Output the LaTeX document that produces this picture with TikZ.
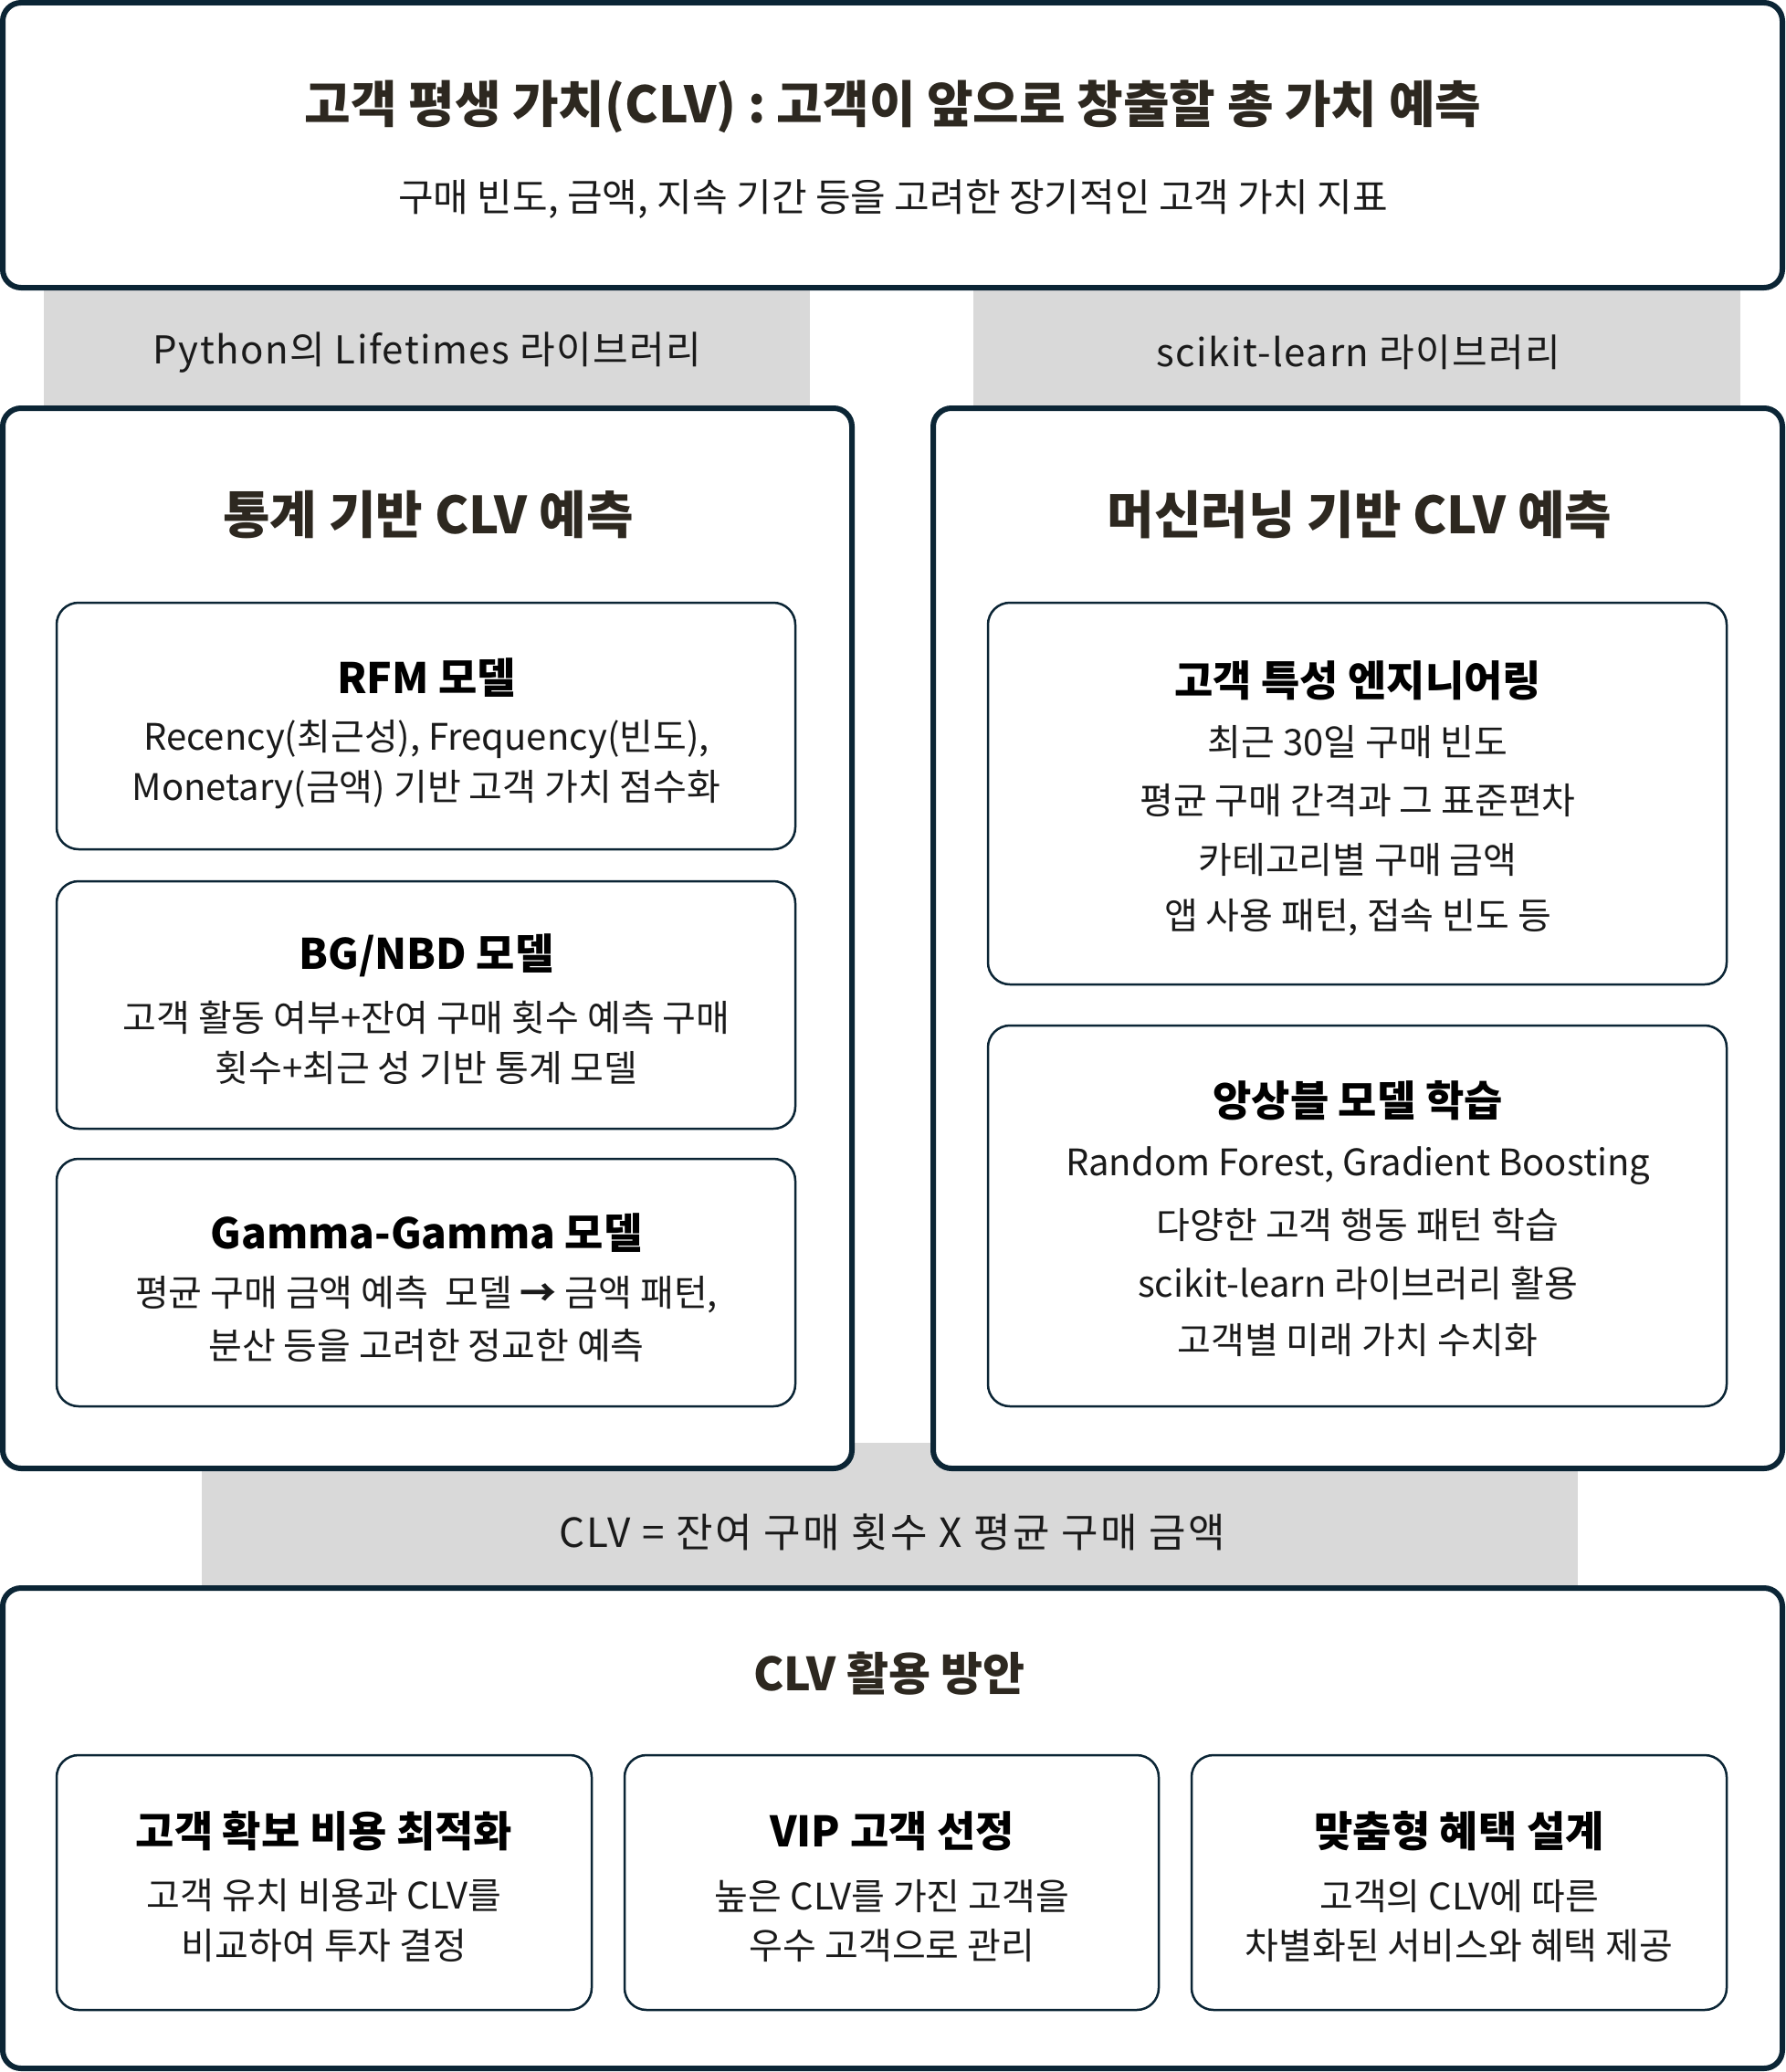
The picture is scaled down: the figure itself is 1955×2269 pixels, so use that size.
\documentclass[tikz,border=0pt]{standalone}
\usepackage{fontspec}
\setmainfont{Noto Sans CJK KR}
\definecolor{edge}{HTML}{0B2535}
\definecolor{band}{HTML}{D9D9D9}
\definecolor{ttl}{HTML}{2D2820}
\definecolor{txt}{HTML}{1A1A1A}
\begin{document}
\begin{tikzpicture}[x=1pt,y=-1pt,
  outer/.style={draw=edge, line width=6pt, rounded corners=20pt, fill=white, inner sep=0pt, outer sep=0pt},
  inner/.style={draw=edge, line width=2.5pt, rounded corners=24pt, fill=white, inner sep=0pt, outer sep=0pt},
  bandbox/.style={fill=band, draw=none, inner sep=0pt, outer sep=0pt},
  txtbase/.style={inner sep=0pt, yshift=-4pt},
  toptitle/.style={txtbase, font=\fontsize{55}{62}\selectfont\bfseries, text=ttl},
  sect/.style={txtbase, font=\fontsize{56}{64}\selectfont\bfseries, text=ttl},
  bsect/.style={txtbase, font=\fontsize{50}{60}\selectfont\bfseries, text=ttl},
  sub/.style={txtbase, font=\fontsize{42}{50}\selectfont, text=txt},
  bandtxt/.style={txtbase, font=\fontsize{42}{50}\selectfont\addfontfeature{LetterSpace=3.5}, text=txt},
  formtxt/.style={txtbase, font=\fontsize{44}{50}\selectfont\addfontfeature{LetterSpace=6}, text=txt},
  ititle/.style={txtbase, font=\fontsize{46}{52}\selectfont\bfseries, text=black},
  body/.style={txtbase, font=\fontsize{40}{50}\selectfont, text=txt}
]
\useasboundingbox (0,0) rectangle (1955,2269);
% grey bands
\node[bandbox, minimum width=839pt, minimum height=130pt] (bandL) at (467.5,381) {};
\node[bandbox, minimum width=840pt, minimum height=130pt] (bandR) at (1486,381) {};
\node[bandbox, minimum width=1507pt, minimum height=160pt] (bandF) at (974.5,1660) {};
% outer boxes
\node[outer, minimum width=1949pt, minimum height=312pt] (top) at (977.5,159) {};
\node[outer, minimum width=930pt, minimum height=1161pt] (left) at (468,1027.5) {};
\node[outer, minimum width=930pt, minimum height=1161pt] (right) at (1487,1027.5) {};
\node[outer, minimum width=1949pt, minimum height=526pt] (bottom) at (977.5,2002) {};
% inner boxes left
\node[inner, minimum width=809pt, minimum height=270pt] (rfm) at (466.5,795) {};
\node[inner, minimum width=809pt, minimum height=271pt] (bg) at (466.5,1100.5) {};
\node[inner, minimum width=809pt, minimum height=271pt] (gg) at (466.5,1404.5) {};
% inner boxes right
\node[inner, minimum width=809pt, minimum height=418pt] (feat) at (1486.5,869) {};
\node[inner, minimum width=809pt, minimum height=417pt] (ens) at (1486.5,1331.5) {};
% inner boxes bottom
\node[inner, minimum width=586pt, minimum height=279pt] (acq) at (355,2061.5) {};
\node[inner, minimum width=585pt, minimum height=279pt] (vip) at (976.5,2061.5) {};
\node[inner, minimum width=586pt, minimum height=279pt] (cus) at (1598,2061.5) {};
% texts top
\node[toptitle] (t1) at (978,113) {고객 평생 가치(CLV) : 고객이 앞으로 창출할 총 가치 예측};
\node[sub] (t2) at (978,214) {구매 빈도, 금액, 지속 기간 등을 고려한 장기적인 고객 가치 지표};
\node[bandtxt] (bl) at (468,382) {Python의 Lifetimes 라이브러리};
\node[bandtxt] (br) at (1488,382) {scikit-learn 라이브러리};
\node[sect] (sl) at (469,560) {통계 기반 CLV 예측};
\node[sect] (sr) at (1489,560) {머신러닝 기반 CLV 예측};
% RFM
\node[ititle] (rfmt) at (467,738) {RFM 모델};
\node[body] (rfm1) at (467,806) {Recency(최근성), Frequency(빈도),};
\node[body] (rfm2) at (467,861) {Monetary(금액) 기반 고객 가치 점수화};
% BG
\node[ititle] (bgt) at (467,1042) {BG/NBD 모델};
\node[body] (bg1) at (467,1110) {고객 활동 여부+잔여 구매 횟수 예측 구매};
\node[body] (bg2) at (467,1165) {횟수+최근 성 기반 통계 모델};
% Gamma
\node[ititle] (ggt) at (467,1346) {Gamma-Gamma 모델};
\node[body] (gg1) at (467,1414) {평균 구매 금액 예측\ \ 모델 \textbf{→} 금액 패턴,};
\node[body] (gg2) at (467,1469) {분산 등을 고려한 정교한 예측};
% features
\node[ititle] (featt) at (1487,741) {고객 특성 엔지니어링};
\node[body] (f1) at (1487,809) {최근 30일 구매 빈도};
\node[body] (f2) at (1487,873) {평균 구매 간격과 그 표준편차};
\node[body] (f3) at (1487,938) {카테고리별 구매 금액};
\node[body] (f4) at (1487,1001) {앱 사용 패턴, 접속 빈도 등};
% ensemble
\node[ititle] (enst) at (1487,1201) {앙상블 모델 학습};
\node[body] (e1) at (1487,1273) {Random Forest, Gradient Boosting};
\node[body] (e2) at (1487,1337) {다양한 고객 행동 패턴 학습};
\node[body] (e3) at (1487,1401) {scikit-learn 라이브러리 활용};
\node[body] (e4) at (1487,1464) {고객별 미래 가치 수치화};
% formula
\node[formtxt] (form) at (977,1674) {CLV = 잔여 구매 횟수 X 평균 구매 금액};
% bottom
\node[bsect] (bt) at (974,1829) {CLV 활용 방안};
\node[ititle] (a0) at (355,2001) {고객 확보 비용 최적화};
\node[body] (a1) at (355,2072) {고객 유치 비용과 CLV를};
\node[body] (a2) at (355,2127) {비교하여 투자 결정};
\node[ititle] (v0) at (977,2001) {VIP 고객 선정};
\node[body] (v1) at (977,2072) {높은 CLV를 가진 고객을};
\node[body] (v2) at (977,2127) {우수 고객으로 관리};
\node[ititle] (c0) at (1598,2001) {맞춤형 혜택 설계};
\node[body] (c1) at (1598,2072) {고객의 CLV에 따른};
\node[body] (c2) at (1598,2127) {차별화된 서비스와 혜택 제공};
\end{tikzpicture}
\end{document}
